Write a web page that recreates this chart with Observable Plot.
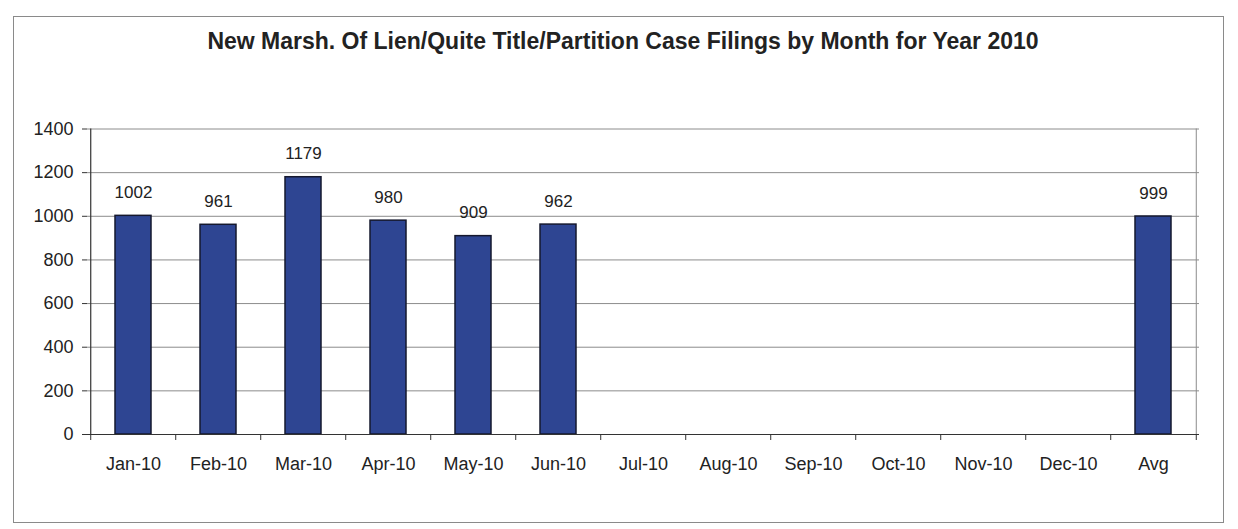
<!DOCTYPE html>
<html>
<head>
<meta charset="utf-8">
<script src="https://cdn.jsdelivr.net/npm/d3@7"></script>
<script src="https://cdn.jsdelivr.net/npm/@observablehq/plot@0.6"></script>
<style>
  html, body { margin: 0; padding: 0; background: #fff; }
  body { width: 1238px; height: 529px; position: relative; overflow: hidden; font-family: "Liberation Sans", Arial, sans-serif; }
  #frame { position: absolute; left: 13px; top: 16px; width: 1211px; height: 507px; border: 1px solid #8a8a8a; box-sizing: border-box; }
  #title { position: absolute; left: 0; top: 27px; width: 1246px; text-align: center; font-weight: bold; font-size: 23px; color: #222; line-height: 28px; }
  #chart { position: absolute; left: 0; top: 0; }
</style>
</head>
<body>
<div id="frame"></div>
<div id="chart"></div>
<div id="title">New Marsh. Of Lien/Quite Title/Partition Case Filings by Month for Year 2010</div>
<script>
const categories = ["Jan-10","Feb-10","Mar-10","Apr-10","May-10","Jun-10","Jul-10","Aug-10","Sep-10","Oct-10","Nov-10","Dec-10","Avg"];
const values = [1002, 961, 1179, 980, 909, 962, null, null, null, null, null, null, 999];
const yTicks = [0, 200, 400, 600, 800, 1000, 1200, 1400];

const data = categories.map((c, i) => ({month: c, value: values[i]}));
const filled = data.filter(d => d.value != null);

const W = 1238, H = 529;
const mL = 87, mR = 39, mT = 128.5, mB = 95;
const step = (W - mL - mR) / categories.length;

const chart = Plot.plot({
  width: W,
  height: H,
  marginLeft: mL,
  marginRight: mR,
  marginTop: mT,
  marginBottom: mB,
  style: {fontFamily: "'Liberation Sans', Arial, sans-serif", fontSize: "18px", color: "#222", background: "transparent"},
  x: {domain: categories, paddingInner: 0.58, paddingOuter: 0.29, label: null},
  y: {domain: [0, 1400], label: null},
  marks: [
    Plot.gridY(yTicks, {stroke: "#8c8c8c", strokeOpacity: 1, strokeWidth: 1}),
    Plot.ruleX([categories[categories.length - 1]], {dx: step / 2, stroke: "#8c8c8c"}),
    Plot.barY(filled, {x: "month", y: "value", fill: "#2E4592", stroke: "#15182e", strokeWidth: 1.5}),
    Plot.text(filled, {x: "month", y: "value", text: d => String(d.value), dy: -18, lineAnchor: "bottom", fontSize: 17, fill: "#222"}),
    Plot.axisY({ticks: yTicks, tickFormat: d => String(d), tickSize: 5, tickPadding: 9, fontSize: 18, stroke: "#333", fill: "#222"}),
    Plot.axisX({tickSize: 0, tickPadding: 23, fontSize: 18, fill: "#222"}),
    Plot.ruleY([0], {stroke: "#333", strokeWidth: 1.2}),
    Plot.ruleX(categories, {x: d => d, y1: 0, y2: 0, insetBottom: -6, dx: -step / 2, stroke: "#333"}),
    Plot.ruleX([categories[categories.length - 1]], {y1: 0, y2: 0, insetBottom: -6, dx: step / 2, stroke: "#333"}),
    Plot.ruleX([categories[0]], {y1: 0, y2: 1400, dx: -step / 2, stroke: "#333", strokeWidth: 1.2})
  ]
});
document.getElementById("chart").appendChild(chart);
</script>
</body>
</html>
